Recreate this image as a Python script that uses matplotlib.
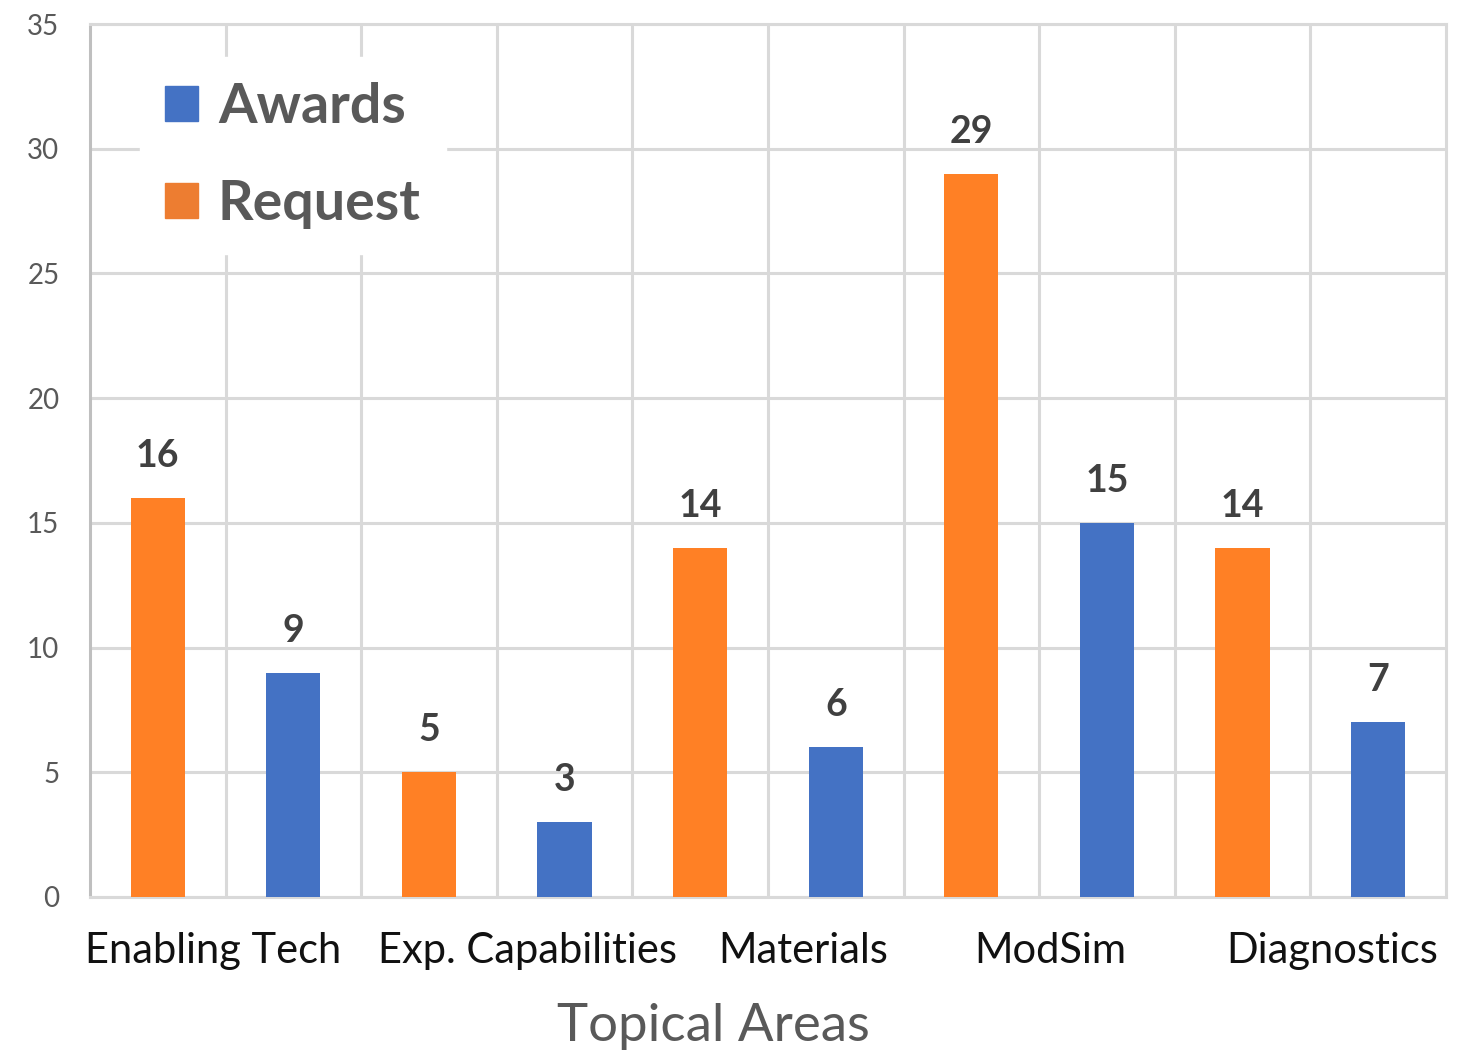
import matplotlib.pyplot as plt
from matplotlib.patches import Patch

# data
categories = ["Enabling Tech", "Exp. Capabilities", "Materials", "ModSim", "Diagnostics"]
request = [16, 5, 14, 29, 14]
awards = [9, 3, 6, 15, 7]

plt.rcParams['font.family'] = ['Lato', 'DejaVu Sans']

fig = plt.figure(figsize=(14.6, 10.59), dpi=100)
ax = fig.add_axes([0.0616, 0.153, 0.9288, 0.8243])

grid_c = "#D9D9D9"
orange = "#FF8025"
blue = "#4472C4"

# each category has two slots: request then awards
req_x = [2 * i for i in range(len(categories))]
awd_x = [2 * i + 1 for i in range(len(categories))]

b1 = ax.bar(req_x, request, width=0.4, color=orange, zorder=3)
b2 = ax.bar(awd_x, awards, width=0.4, color=blue, zorder=3)

for bars in (b1, b2):
    ax.bar_label(bars, padding=18, fontsize=27, fontweight="bold", color="#404040")

ax.set_xlim(-0.5, 9.5)
ax.set_ylim(0, 35)
ax.set_yticks(range(0, 36, 5))
ax.tick_params(axis="y", length=0, pad=22, labelsize=20, labelcolor="#595959")

# category labels sit roughly under each pair
ax.set_xticks([0.41, 2.73, 4.76, 6.58, 8.66])
ax.set_xticklabels(categories)
ax.tick_params(axis="x", which="major", length=0, pad=25, labelsize=30, labelcolor="#111111")
ax.set_xticks([i + 0.5 for i in range(9)], minor=True)
ax.tick_params(axis="x", which="minor", length=0)

ax.grid(axis="y", color=grid_c, linewidth=2.2, zorder=0)
ax.grid(axis="x", which="minor", color=grid_c, linewidth=2.2, zorder=0)
ax.set_axisbelow(True)

for side in ("top", "right", "bottom"):
    ax.spines[side].set_color(grid_c)
    ax.spines[side].set_linewidth(2.2)
ax.spines["left"].set_color("#BFBFBF")
ax.spines["left"].set_linewidth(2.2)

handles = [Patch(color=blue, label="Awards"), Patch(color="#ED7D31", label="Request")]
leg = ax.legend(handles=handles, loc="upper left", bbox_to_anchor=(0.037, 0.962),
                borderaxespad=0, handlelength=0.6, handleheight=0.6,
                handletextpad=0.35, labelspacing=0.85, borderpad=0.45,
                frameon=True, fancybox=False, edgecolor="white", framealpha=1,
                prop={"weight": "bold", "size": 40})
for t in leg.get_texts():
    t.set_color("#595959")

fig.text(713 / 1460, 1 - 1027 / 1059, "Topical Areas", fontsize=38, color="#595959",
         ha="center", va="center")

fig.savefig("out.png", dpi=100)
